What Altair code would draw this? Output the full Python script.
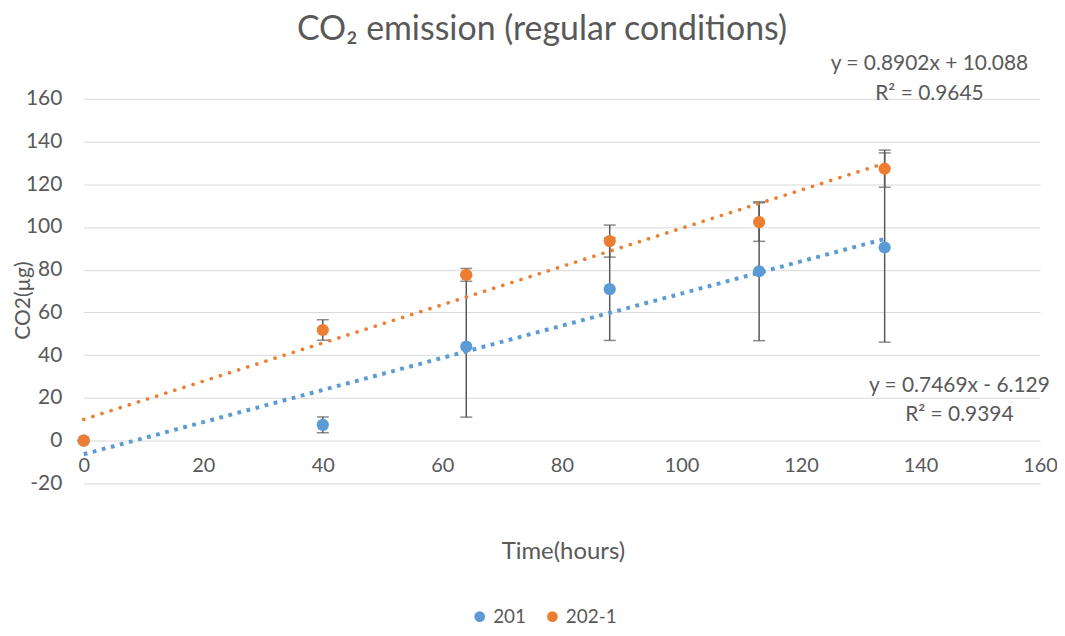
import altair as alt
import pandas as pd

# ---- data ----
time_h = [0, 40, 64, 88, 113, 134]
co2_201 = [0, 7.4, 44.0, 70.9, 79.3, 90.4]
err_201 = [0, 3.7, 33.0, 24.0, 32.5, 44.3]
co2_2021 = [0, 51.8, 77.6, 93.4, 102.3, 127.3]
err_2021 = [0, 4.8, 3.0, 7.5, 9.0, 8.7]
series_names = ["201", "202-1"]
series_colors = ["#5B9BD5", "#ED7D31"]

eq_labels = ["y = 0.8902x + 10.088", "R\u00b2 = 0.9645",
             "y = 0.7469x - 6.129", "R\u00b2 = 0.9394"]
eq_x = [141.5, 141.5, 146.5, 146.5]
eq_y = [176.2, 162.2, 25.6, 12.1]

x_ticks = [0, 20, 40, 60, 80, 100, 120, 140, 160]
y_ticks = [-20, 0, 20, 40, 60, 80, 100, 120, 140, 160]

# ---- tables ----
rows = []
for name, vals, errs in [(series_names[0], co2_201, err_201),
                         (series_names[1], co2_2021, err_2021)]:
    for t, v, e in zip(time_h, vals, errs):
        rows.append({"series": name, "Time": t, "CO2": v,
                     "lo": v - e, "hi": v + e})
df = pd.DataFrame(rows)
eq_df = pd.DataFrame({"label": eq_labels, "x": eq_x, "y": eq_y})

TXT = "#595959"
FONT = "Lato"

xscale = alt.Scale(domain=[0, 160], nice=False, zero=False)
yscale = alt.Scale(domain=[-20, 160], nice=False, zero=False)
cscale = alt.Scale(domain=series_names, range=series_colors)

base = alt.Chart(df)

x_enc = alt.X("Time:Q", scale=xscale,
              axis=alt.Axis(values=x_ticks, grid=False, domain=False, ticks=False,
                            offset=-43, labelPadding=15, labelFontSize=20,
                            labelFlush=False, labelOverlap=False,
                            labelColor=TXT, labelFont=FONT,
                            labelExpr="'' + datum.value",
                            title="Time(hours)", titleFontSize=24, titleColor=TXT,
                            titleFont=FONT, titleFontWeight="normal",
                            titleX=481, titleY=111, titleBaseline="middle",
                            titleAlign="center"))
y_enc = alt.Y("lo:Q", scale=yscale,
              axis=alt.Axis(values=y_ticks, grid=True, gridColor="#D9D9D9",
                            gridWidth=1, domain=False, ticks=False,
                            labelFlush=False, labelOverlap=False,
                            labelPadding=22, labelFontSize=21, labelColor=TXT,
                            labelFont=FONT, labelExpr="'' + datum.value",
                            title="CO2(\u00b5g)", titleFontSize=21, titleColor=TXT,
                            titleFont=FONT, titleFontWeight="normal",
                            titleX=-60, titleY=202, titleAngle=270,
                            titleAlign="center", titleBaseline="middle"))

rules = base.mark_rule(color="#595959", strokeWidth=1.5).encode(
    x=x_enc, y=y_enc, y2="hi:Q")

caps = base.transform_fold(["lo", "hi"], as_=["end", "val"]).mark_tick(
    orient="horizontal", size=12, thickness=1.5, color="#595959").encode(
    x="Time:Q", y="val:Q")

trend_blue = base.transform_filter(
    alt.datum.series == series_names[0]).transform_regression(
    "Time", "CO2", extent=[0, 134]).mark_line(
    color=series_colors[0], strokeWidth=4.0, strokeCap="butt",
    strokeDash=[3.8, 5.6]).encode(x="Time:Q", y="CO2:Q")

trend_orange = base.transform_filter(
    alt.datum.series == series_names[1]).transform_regression(
    "Time", "CO2", extent=[0, 134]).mark_line(
    color=series_colors[1], strokeWidth=3.6, strokeCap="round",
    strokeDash=[0.1, 9.5]).encode(x="Time:Q", y="CO2:Q")

points = base.mark_circle(size=150, opacity=1).encode(
    x="Time:Q", y="CO2:Q",
    color=alt.Color("series:N", scale=cscale,
                    legend=alt.Legend(orient="none", legendX=388, legendY=510,
                                      direction="horizontal", title=None,
                                      labelFontSize=19, labelColor=TXT,
                                      labelFont=FONT, symbolSize=115,
                                      symbolType="circle", columnPadding=16,
                                      labelOffset=4, symbolStrokeWidth=0)))

eqs = alt.Chart(eq_df).mark_text(fontSize=21, color=TXT, font=FONT,
                                 align="center", baseline="middle").encode(
    x="x:Q", y="y:Q", text="label:N")

chart = alt.layer(rules, caps, trend_blue, trend_orange, points, eqs).properties(
    width=960, height=386,
    title=alt.TitleParams("CO\u2082 emission (regular conditions)", fontSize=34,
                          font=FONT, color=TXT, fontWeight="normal",
                          anchor="middle", dx=-20, offset=-21,
                          baseline="alphabetic"),
    autosize=alt.AutoSizeParams(type="none"),
    padding={"left": 76, "top": 90, "right": 17, "bottom": 144},
).configure_view(stroke=None)

chart.save("out.html", embed_options={"renderer": "svg", "actions": False})
